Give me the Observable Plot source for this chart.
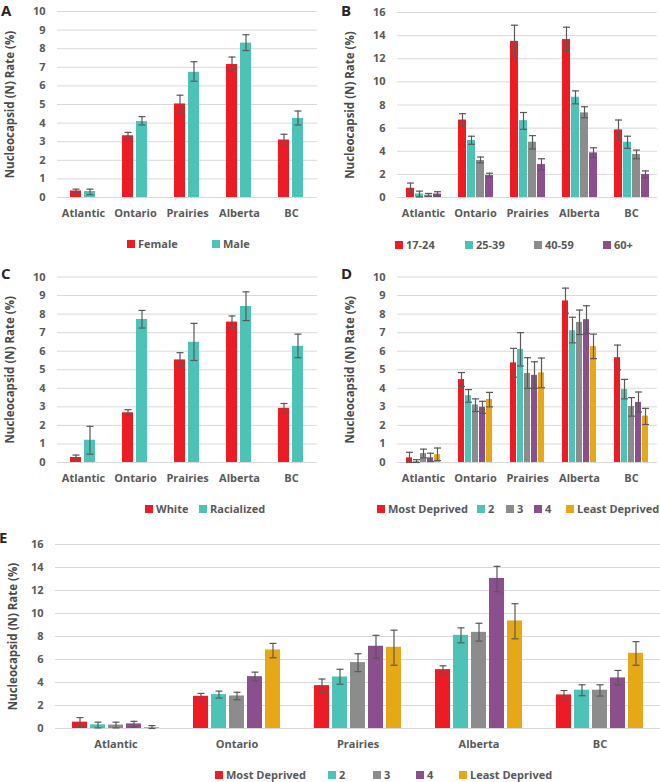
<!DOCTYPE html>
<html><head><meta charset="utf-8">
<script src="https://cdn.jsdelivr.net/npm/d3@7"></script>
<script src="https://cdn.jsdelivr.net/npm/@observablehq/plot@0.6"></script>
<style>
body{margin:0;background:#fff;}
#root{position:relative;width:660px;height:782px;overflow:hidden;font-family:'Open Sans',sans-serif;}
.pl{position:absolute;}
.letter{position:absolute;font-family:'Open Sans',sans-serif;font-weight:700;font-size:15px;line-height:normal;color:#262626;}
.legend{position:absolute;height:14px;font:700 11px/14px 'Open Sans',sans-serif;color:#595959;white-space:nowrap;}
.legend .it{position:absolute;top:0;display:flex;align-items:center;height:14px;}
.legend .sw{display:inline-block;width:8px;height:8px;margin-right:3px;}
g[aria-label="y-axis label"] text{font-size:11.5px;fill:#4a4a4a;}
</style></head>
<body><div id="root"></div>
<script>
const regions = ["Atlantic","Ontario","Prairies","Alberta","BC"];
const yTitle = "Nucleocapsid (N) Rate (%)";

// Panel A — sex
const sexGroups = ["Female","Male"];
const sexRate = [[0.35,3.32,5.03,7.15,3.09],[0.32,4.08,6.73,8.30,4.25]];
const sexLow  = [[0.25,3.15,4.60,6.80,2.80],[0.15,3.90,6.25,7.90,3.90]];
const sexHigh = [[0.45,3.50,5.50,7.55,3.40],[0.45,4.35,7.30,8.75,4.65]];

// Panel B — age
const ageGroups = ["17-24","25-39","40-59","60+"];
const ageRate = [[0.80,6.70,13.50,13.66,5.85],[0.30,4.93,6.65,8.67,4.78],[0.20,3.20,4.78,7.32,3.72],[0.30,1.90,2.85,3.86,1.99]];
const ageLow  = [[0.35,6.20,12.10,12.70,5.00],[0.05,4.60,5.90,8.10,4.25],[0.10,3.00,4.20,6.90,3.35],[0.10,1.75,2.40,3.45,1.70]];
const ageHigh = [[1.25,7.25,14.90,14.73,6.70],[0.55,5.30,7.35,9.22,5.30],[0.35,3.50,5.35,7.85,4.10],[0.50,2.10,3.35,4.30,2.30]];

// Panel C — race
const raceGroups = ["White","Racialized"];
const raceRate = [[0.27,2.68,5.53,7.57,2.92],[1.20,7.71,6.48,8.41,6.26]];
const raceLow  = [[0.15,2.55,5.15,7.25,2.65],[0.45,7.25,5.50,7.65,5.65]];
const raceHigh = [[0.40,2.85,5.92,7.90,3.18],[1.95,8.20,7.50,9.20,6.92]];

// Panel D — material deprivation
const depGroups = ["Most Deprived","2","3","4","Least Deprived"];
const matRate = [[0.25,4.47,5.37,8.71,5.65],[0.05,3.60,6.09,7.10,3.93],[0.48,3.10,4.80,7.55,3.02],[0.25,2.98,4.70,7.70,3.24],[0.42,3.40,4.83,6.25,2.50]];
const matLow  = [[0.00,4.10,4.60,8.05,5.00],[0.00,3.25,5.20,6.45,3.43],[0.25,2.75,4.00,6.90,2.50],[0.05,2.65,4.00,6.95,2.72],[0.10,3.00,4.03,5.60,2.05]];
const matHigh = [[0.55,4.85,6.15,9.40,6.33],[0.15,3.93,7.00,7.83,4.48],[0.72,3.43,5.65,8.22,3.50],[0.50,3.30,5.43,8.45,3.80],[0.78,3.78,5.63,6.92,2.92]];

// Panel E — social deprivation
const socRate = [[0.55,2.80,3.73,5.12,2.92],[0.32,2.95,4.48,8.10,3.33],[0.30,2.83,5.73,8.36,3.33],[0.40,4.51,7.15,13.05,4.40],[0.08,6.83,7.06,9.35,6.54]];
const socLow  = [[0.15,2.50,3.10,4.75,2.50],[0.05,2.65,3.85,7.45,2.85],[0.05,2.50,4.95,7.60,2.82],[0.12,4.15,6.10,11.90,3.80],[0.00,6.15,5.50,7.80,5.50]];
const socHigh = [[0.95,3.05,4.30,5.45,3.30],[0.55,3.25,5.15,8.75,3.80],[0.55,3.15,6.50,9.15,3.80],[0.62,4.90,8.10,14.10,5.05],[0.25,7.40,8.55,10.85,7.55]];

const RED = "#ED1C24", TEAL = "#4DC3B8", GRAY = "#8C8C8C", PURPLE = "#8A4F8C", GOLD = "#E6A817";
const errColor = "#595959";

const cap = {draw(ctx, size){ const r = Math.sqrt(size/Math.PI); ctx.moveTo(-r,0); ctx.lineTo(r,0); }};

const root = document.getElementById("root");

function panel(o){
  const data = regions.flatMap((r,i) => o.series.map((s,j) => ({region:r, series:s, v:o.rate[j][i], lo:o.lo[j][i], hi:o.hi[j][i]})));
  const ticks = d3.range(0, o.yMax + 0.001, o.yStep);
  const chart = Plot.plot({
    width:o.w, height:o.h,
    marginTop:o.mt, marginBottom:o.mb, marginLeft:o.ml, marginRight:o.mr,
    style:{fontFamily:"'Open Sans', sans-serif", fontSize:"11px", fontWeight:"bold", color:"#595959", background:"transparent", overflow:"visible"},
    fx:{domain:regions, padding:0, label:null, tickSize:0, tickPadding:12},
    x:{domain:o.series, paddingInner:o.pIn, paddingOuter:o.pOut, axis:null},
    y:{domain:[0,o.yMax], ticks, tickSize:0, tickPadding:12, label:yTitle, labelAnchor:"center", labelArrow:"none", labelOffset:o.lo2},
    color:{domain:o.series, range:o.colors},
    marks:[
      Plot.gridY(ticks, {stroke:"#d9d9d9", strokeOpacity:1}),
      Plot.barY(data, {fx:"region", x:"series", y:"v", fill:"series"}),
      Plot.ruleX(data, {fx:"region", x:"series", y1:"lo", y2:"hi", stroke:errColor, strokeWidth:1.2}),
      Plot.dot(data, {fx:"region", x:"series", y:"lo", symbol:cap, r:3.5, stroke:errColor, strokeWidth:1.2}),
      Plot.dot(data, {fx:"region", x:"series", y:"hi", symbol:cap, r:3.5, stroke:errColor, strokeWidth:1.2})
    ]
  });
  chart.classList.add("pl");
  chart.style.left = o.left + "px";
  chart.style.top = o.top + "px";
  root.appendChild(chart);

  const lg = document.createElement("div");
  lg.className = "legend";
  lg.style.left = "0px";
  lg.style.top = o.lgTop + "px";
  o.series.forEach((s,j) => {
    const it = document.createElement("div");
    it.className = "it";
    it.style.left = o.lgX[j] + "px";
    const sw = document.createElement("span");
    sw.className = "sw"; sw.style.background = o.colors[j];
    const tx = document.createElement("span");
    tx.textContent = s;
    it.appendChild(sw); it.appendChild(tx);
    lg.appendChild(it);
  });
  root.appendChild(lg);

  const L = document.createElement("div");
  L.className = "letter";
  L.textContent = o.letter;
  L.style.left = o.letX + "px";
  L.style.top = o.letY + "px";
  root.appendChild(L);
}

panel({letter:"A", letX:1, letY:0, series:sexGroups, colors:[RED,TEAL], rate:sexRate, lo:sexLow, hi:sexHigh,
  yMax:10, yStep:1, left:0, top:0, w:330, h:225, mt:11, mb:28, ml:55, mr:12, pIn:0.2, pOut:0.85, lo2:52,
  lgTop:237, lgX:[127,212]});
panel({letter:"B", letX:341, letY:0, series:ageGroups, colors:[RED,TEAL,GRAY,PURPLE], rate:ageRate, lo:ageLow, hi:ageHigh,
  yMax:16, yStep:2, left:330, top:0, w:330, h:225, mt:12, mb:28, ml:65, mr:1, pIn:0.15, pOut:0.9, lo2:52,
  lgTop:238, lgX:[395,465,534,603]});
panel({letter:"C", letX:1, letY:263, series:raceGroups, colors:[RED,TEAL], rate:raceRate, lo:raceLow, hi:raceHigh,
  yMax:10, yStep:1, left:0, top:265, w:330, h:225, mt:11.5, mb:28, ml:55, mr:12, pIn:0.2, pOut:0.85, lo2:52,
  lgTop:502, lgX:[145,199]});
panel({letter:"D", letX:341, letY:263, series:depGroups, colors:[RED,TEAL,GRAY,PURPLE,GOLD], rate:matRate, lo:matLow, hi:matHigh,
  yMax:10, yStep:1, left:330, top:265, w:330, h:225, mt:11.5, mb:28, ml:65, mr:1, pIn:0.12, pOut:0.85, lo2:52,
  lgTop:502, lgX:[377,477,506,534,566]});
panel({letter:"E", letX:-1, letY:527, series:depGroups, colors:[RED,TEAL,GRAY,PURPLE,GOLD], rate:socRate, lo:socLow, hi:socHigh,
  yMax:16, yStep:2, left:0, top:532, w:660, h:224, mt:12, mb:28, ml:54, mr:0, pIn:0.18, pOut:0.9, lo2:47,
  lgTop:768, lgX:[215,328,373,416,459]});
</script>
</body></html>
